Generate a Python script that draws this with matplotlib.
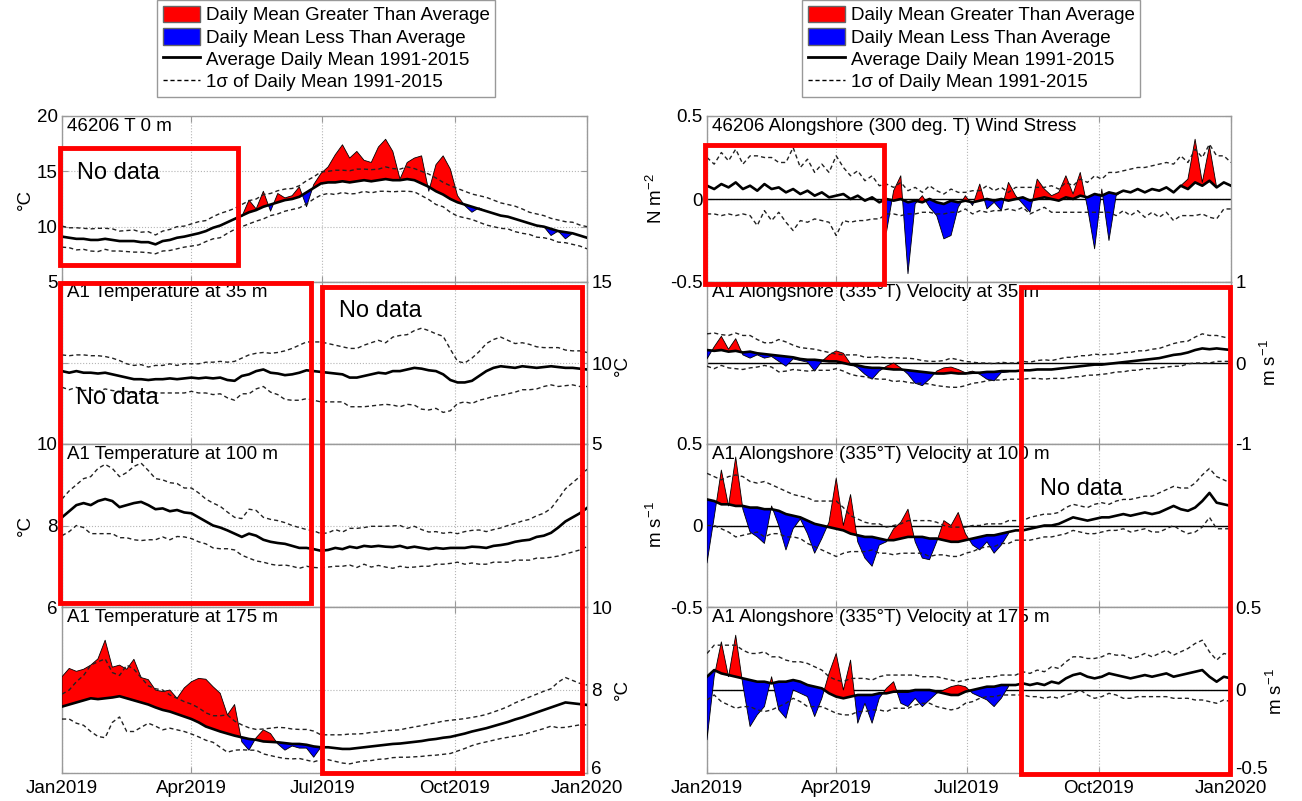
import numpy as np
import matplotlib

matplotlib.use("Agg")
import matplotlib.pyplot as plt
import matplotlib.transforms as mtransforms
from matplotlib.patches import Rectangle, Patch
from matplotlib.lines import Line2D

plt.rcParams["font.family"] = ["Liberation Sans", "DejaVu Sans"]
plt.rcParams["mathtext.default"] = "regular"

# day of year, 5-day steps through 2019
days = np.arange(0, 366, 5)
month_ticks = [0, 90, 181, 273, 365]
month_labels = ["Jan2019", "Apr2019", "Jul2019", "Oct2019", "Jan2020"]

# ---- left column: temperature (deg C) ----
t0_mean = [9.1, 9.0, 8.9, 8.9, 8.8, 8.8, 8.9, 8.8, 8.7, 8.7,
           8.7, 8.6, 8.6, 8.4, 8.7, 8.8, 9.0, 9.1, 9.25, 9.4,
           9.6, 9.9, 10.1, 10.4, 10.7, 11.0, 11.3, 11.5, 11.8, 12.0,
           12.2, 12.4, 12.5, 12.7, 13.1, 13.5, 13.9, 14.0, 14.0, 14.1,
           14.0, 14.1, 14.2, 14.1, 14.2, 14.3, 14.2, 14.2, 14.3, 14.2,
           13.9, 13.6, 13.2, 12.9, 12.5, 12.2, 12.0, 11.8, 11.6, 11.4,
           11.2, 11.0, 10.9, 10.7, 10.5, 10.3, 10.1, 10.0, 9.8, 9.6,
           9.5, 9.4, 9.2, 9.0]
t0_sd = [0.95, 0.9, 1.0, 0.95, 1.0, 1.05, 0.95, 1.0, 0.9, 0.95,
         1.0, 0.9, 0.95, 0.85, 0.9, 0.95, 1.0, 0.95, 1.0, 1.05,
         0.95, 1.0, 1.1, 1.0, 0.95, 1.0, 1.05, 1.0, 1.1, 1.0,
         1.05, 1.0, 0.95, 1.0, 1.05, 1.0, 1.05, 1.0, 1.1, 1.0,
         1.05, 1.1, 1.0, 1.05, 1.0, 1.1, 1.05, 1.0, 1.1, 1.05,
         1.1, 1.15, 1.2, 1.1, 1.2, 1.25, 1.2, 1.15, 1.2, 1.25,
         1.2, 1.15, 1.1, 1.15, 1.1, 1.0, 1.05, 1.0, 0.95, 1.0,
         0.95, 1.0, 0.95, 1.0]
# observed 2019 from day 125 on
t0_obs = [10.9, 12.4, 11.6, 13.2, 11.4, 13.0, 12.6, 12.8, 13.6, 11.8,
          13.8, 14.8, 15.4, 16.5, 17.4, 16.2, 16.8, 16.0, 15.8, 17.2,
          17.9, 16.8, 14.3, 15.8, 16.2, 16.4, 13.2, 15.6, 16.4, 15.2,
          12.8, 11.9, 11.3, 11.7, 11.4, 11.2, 11.0, 10.9, 10.7, 10.5,
          10.3, 10.1, 10.0, 9.2, 9.6, 8.9, 9.4, 9.2, 9.0]

t35_mean = [9.5, 9.4, 9.5, 9.4, 9.4, 9.35, 9.4, 9.3, 9.2, 9.1,
            9.0, 9.0, 8.95, 9.0, 9.0, 9.05, 9.0, 9.05, 9.1, 9.05,
            9.1, 9.05, 9.1, 8.95, 8.9, 9.2, 9.3, 9.5, 9.6, 9.4,
            9.35, 9.25, 9.3, 9.4, 9.55, 9.5, 9.45, 9.4, 9.35, 9.3,
            9.1, 9.1, 9.2, 9.3, 9.4, 9.35, 9.5, 9.5, 9.6, 9.7,
            9.65, 9.55, 9.5, 9.3, 8.95, 8.8, 8.8, 8.9, 9.2, 9.5,
            9.7, 9.8, 9.75, 9.7, 9.8, 9.75, 9.7, 9.75, 9.8, 9.75,
            9.7, 9.7, 9.65, 9.6]
t35_sd = [1.0, 1.05, 1.0, 1.1, 1.05, 1.1, 1.0, 1.0, 0.95, 0.85,
          0.85, 0.9, 0.8, 0.85, 0.85, 0.9, 0.85, 0.9, 0.85, 0.9,
          0.95, 1.0, 1.0, 1.1, 1.2, 1.1, 1.2, 1.1, 1.05, 1.2,
          1.3, 1.5, 1.6, 1.7, 1.75, 1.8, 1.85, 1.8, 1.75, 1.7,
          1.8, 1.8, 1.9, 1.95, 2.0, 1.9, 2.1, 2.2, 2.15, 2.3,
          2.5, 2.45, 2.3, 2.35, 1.9, 1.3, 1.2, 1.4, 1.5, 1.7,
          1.75, 1.8, 1.65, 1.5, 1.45, 1.4, 1.3, 1.2, 1.15, 1.2,
          1.1, 1.05, 1.1, 1.05]

t100_mean = [8.2, 8.35, 8.5, 8.55, 8.5, 8.6, 8.65, 8.6, 8.45, 8.5,
             8.55, 8.58, 8.5, 8.4, 8.42, 8.35, 8.38, 8.32, 8.3, 8.2,
             8.1, 8.0, 7.95, 7.88, 7.8, 7.72, 7.8, 7.75, 7.65, 7.6,
             7.57, 7.55, 7.5, 7.45, 7.45, 7.42, 7.38, 7.4, 7.45, 7.42,
             7.48, 7.45, 7.5, 7.48, 7.5, 7.48, 7.47, 7.5, 7.45, 7.48,
             7.45, 7.42, 7.45, 7.43, 7.45, 7.45, 7.45, 7.48, 7.47, 7.45,
             7.5, 7.52, 7.55, 7.6, 7.63, 7.65, 7.72, 7.75, 7.82, 7.95,
             8.1, 8.2, 8.3, 8.43]
t100_sd = [0.45, 0.5, 0.5, 0.6, 0.7, 0.8, 0.85, 0.8, 0.75, 0.8,
           0.9, 0.95, 0.85, 0.75, 0.7, 0.7, 0.65, 0.6, 0.62, 0.6,
           0.55, 0.55, 0.52, 0.45, 0.4, 0.45, 0.6, 0.62, 0.55, 0.55,
           0.55, 0.52, 0.5, 0.5, 0.45, 0.45, 0.42, 0.42, 0.45, 0.42,
           0.45, 0.48, 0.45, 0.5, 0.48, 0.5, 0.52, 0.5, 0.48, 0.5,
           0.45, 0.42, 0.4, 0.38, 0.38, 0.35, 0.4, 0.4, 0.42, 0.4,
           0.4, 0.42, 0.45, 0.45, 0.48, 0.5, 0.52, 0.55, 0.6, 0.7,
           0.8, 0.85, 0.9, 0.95]

t175_mean = [7.6, 7.65, 7.7, 7.75, 7.8, 7.78, 7.8, 7.82, 7.85, 7.8,
             7.75, 7.7, 7.65, 7.58, 7.52, 7.48, 7.42, 7.36, 7.3, 7.22,
             7.12, 7.06, 7.0, 6.95, 6.9, 6.86, 6.82, 6.8, 6.76, 6.75,
             6.74, 6.72, 6.7, 6.7, 6.68, 6.64, 6.62, 6.62, 6.6, 6.58,
             6.58, 6.6, 6.62, 6.64, 6.66, 6.68, 6.7, 6.71, 6.73, 6.75,
             6.77, 6.8, 6.82, 6.85, 6.87, 6.91, 6.95, 7.0, 7.04, 7.08,
             7.13, 7.18, 7.23, 7.29, 7.34, 7.4, 7.46, 7.52, 7.58, 7.64,
             7.7, 7.68, 7.66, 7.64]
t175_sd = [0.3, 0.35, 0.5, 0.6, 0.8, 0.9, 0.95, 0.6, 0.5, 0.8,
           0.75, 0.6, 0.45, 0.45, 0.48, 0.4, 0.38, 0.36, 0.36, 0.35,
           0.33, 0.32, 0.38, 0.45, 0.35, 0.3, 0.27, 0.25, 0.3, 0.33,
           0.36, 0.37, 0.36, 0.35, 0.37, 0.37, 0.3, 0.3, 0.32, 0.34,
           0.36, 0.34, 0.33, 0.34, 0.33, 0.34, 0.33, 0.33, 0.35, 0.36,
           0.37, 0.38, 0.39, 0.4, 0.4, 0.38, 0.36, 0.34, 0.33, 0.33,
           0.34, 0.35, 0.37, 0.4, 0.42, 0.43, 0.44, 0.45, 0.45, 0.55,
           0.6, 0.55, 0.5, 0.48]
# observed 2019 up to day 180
t175_obs = [8.32, 8.52, 8.45, 8.5, 8.6, 8.75, 9.2, 8.55, 8.6, 8.5,
            8.74, 8.3, 8.25, 8.0, 7.96, 8.0, 7.8, 8.05, 8.2, 8.28,
            8.26, 8.08, 7.92, 7.4, 7.65, 6.75, 6.55, 6.85, 7.04, 6.95,
            6.7, 6.55, 6.65, 6.6, 6.6, 6.38, 6.62]

# ---- right column: wind stress (N m-2) and velocity (m s-1) ----
ws_mean = [0.08, 0.06, 0.09, 0.07, 0.1, 0.06, 0.08, 0.05, 0.09, 0.06,
           0.07, 0.04, 0.06, 0.03, 0.05, 0.02, 0.04, 0.01, 0.02, 0.03,
           0.0, 0.02, -0.01, 0.01, -0.02, 0.0, -0.01, 0.0, -0.02, -0.01,
           -0.02, 0.0, -0.02, -0.03, -0.01, -0.02, -0.01, -0.02, -0.01, 0.0,
           -0.01, 0.0, -0.01, 0.0, 0.01, -0.01, 0.0, 0.01, 0.0, -0.01,
           0.01, 0.0, 0.02, 0.01, 0.03, 0.02, 0.04, 0.03, 0.05, 0.04,
           0.06, 0.04, 0.06, 0.05, 0.07, 0.04, 0.08, 0.06, 0.1, 0.08,
           0.11, 0.07, 0.1, 0.08]
ws_sd = [0.17, 0.15, 0.19, 0.16, 0.2, 0.15, 0.18, 0.21, 0.16, 0.19,
         0.15, 0.18, 0.25, 0.16, 0.19, 0.14, 0.17, 0.15, 0.24, 0.16,
         0.14, 0.15, 0.12, 0.13, 0.1, 0.09, 0.08, 0.1, 0.07, 0.08,
         0.06, 0.08, 0.07, 0.06, 0.07, 0.06, 0.05, 0.07, 0.06, 0.08,
         0.06, 0.07, 0.05, 0.07, 0.06, 0.08, 0.07, 0.06, 0.08, 0.07,
         0.09, 0.08, 0.1, 0.09, 0.11, 0.1, 0.12, 0.13, 0.12, 0.14,
         0.13, 0.15, 0.14, 0.16, 0.15, 0.17, 0.18, 0.16, 0.2, 0.17,
         0.22, 0.19, 0.16, 0.14]
# observed 2019 from day 125 on
ws_obs = [-0.2, 0.05, 0.14, -0.45, -0.03, 0.02, -0.05, -0.1, -0.24, -0.22,
          -0.05, 0.02, -0.04, 0.09, -0.06, -0.02, -0.07, 0.1, 0.02, -0.03,
          -0.08, 0.12, 0.06, 0.02, 0.04, 0.14, 0.03, 0.16, -0.05, -0.3,
          0.06, -0.25, 0.02, 0.05, 0.04, 0.06, 0.04, 0.06, 0.05, 0.07,
          0.04, 0.08, 0.12, 0.36, 0.1, 0.32, 0.07, 0.1, 0.08]

v35_mean = [0.16, 0.15, 0.16, 0.14, 0.15, 0.13, 0.14, 0.12, 0.11, 0.1,
            0.09, 0.08, 0.07, 0.05, 0.04, 0.04, 0.03, 0.02, 0.02, 0.0,
            -0.02, -0.03, -0.05, -0.06, -0.06, -0.07, -0.08, -0.08, -0.09, -0.1,
            -0.11, -0.12, -0.13, -0.13, -0.12, -0.13, -0.13, -0.12, -0.12, -0.11,
            -0.11, -0.1, -0.1, -0.1, -0.09, -0.09, -0.08, -0.08, -0.08, -0.07,
            -0.06, -0.05, -0.04, -0.03, -0.02, -0.02, -0.01, 0.0, 0.01, 0.02,
            0.03, 0.04, 0.05, 0.06, 0.08, 0.1, 0.11, 0.13, 0.16, 0.18,
            0.17, 0.18, 0.17, 0.16]
v35_sd = [0.2, 0.22, 0.19, 0.2, 0.22, 0.21, 0.2, 0.17, 0.14, 0.15,
          0.2, 0.18, 0.15, 0.14, 0.14, 0.13, 0.12, 0.11, 0.09, 0.1,
          0.12, 0.13, 0.12, 0.13, 0.14, 0.13, 0.15, 0.14, 0.15, 0.15,
          0.14, 0.14, 0.15, 0.16, 0.18, 0.17, 0.15, 0.13, 0.12, 0.11,
          0.1, 0.11, 0.1, 0.1, 0.11, 0.1, 0.11, 0.12, 0.11, 0.12,
          0.13, 0.12, 0.13, 0.12, 0.13, 0.12, 0.12, 0.11, 0.12, 0.11,
          0.12, 0.11, 0.12, 0.12, 0.13, 0.14, 0.15, 0.14, 0.16, 0.18,
          0.17, 0.16, 0.15, 0.14]
# observed 2019 up to day 210
v35_obs = [0.05, 0.2, 0.33, 0.17, 0.3, 0.1, 0.06, 0.1, 0.06, 0.08,
           0.02, -0.04, 0.05, 0.03, 0.01, -0.1, 0.02, 0.1, 0.15, 0.12,
           -0.01, -0.06, -0.14, -0.2, -0.1, -0.04, 0.0, -0.06, -0.14, -0.25,
           -0.28, -0.2, -0.1, -0.06, -0.05, -0.08, -0.12, -0.1, -0.14, -0.2,
           -0.22, -0.12, -0.11]

v100_mean = [0.16, 0.15, 0.13, 0.13, 0.12, 0.12, 0.11, 0.11, 0.1, 0.1,
             0.09, 0.07, 0.06, 0.05, 0.03, 0.01, 0.0, -0.01, -0.02, -0.03,
             -0.05, -0.06, -0.07, -0.07, -0.08, -0.09, -0.09, -0.08, -0.07, -0.07,
             -0.07, -0.08, -0.08, -0.09, -0.1, -0.1, -0.09, -0.08, -0.07, -0.06,
             -0.06, -0.05, -0.04, -0.03, -0.03, -0.02, -0.01, 0.0, 0.0, 0.01,
             0.03, 0.05, 0.04, 0.03, 0.04, 0.05, 0.05, 0.06, 0.07, 0.06,
             0.07, 0.08, 0.07, 0.08, 0.1, 0.12, 0.1, 0.09, 0.11, 0.15,
             0.2, 0.14, 0.13, 0.12]
v100_sd = [0.16, 0.15, 0.15, 0.17, 0.19, 0.18, 0.16, 0.15, 0.17, 0.15,
           0.14, 0.14, 0.13, 0.13, 0.14, 0.14, 0.15, 0.16, 0.17, 0.14,
           0.11, 0.1, 0.09, 0.08, 0.09, 0.08, 0.09, 0.09, 0.1, 0.1,
           0.1, 0.11, 0.1, 0.09, 0.09, 0.09, 0.08, 0.08, 0.07, 0.07,
           0.07, 0.06, 0.07, 0.06, 0.06, 0.07, 0.07, 0.07, 0.07, 0.07,
           0.08, 0.08, 0.08, 0.08, 0.09, 0.09, 0.08, 0.09, 0.09, 0.1,
           0.1, 0.1, 0.11, 0.12, 0.12, 0.12, 0.13, 0.14, 0.15, 0.16,
           0.15, 0.16, 0.15, 0.14]
v100_obs = [-0.23, 0.05, 0.34, 0.12, 0.42, 0.1, -0.04, -0.07, -0.11, 0.12,
            0.0, -0.15, -0.02, 0.04, -0.05, -0.17, -0.08, 0.02, 0.29, 0.0,
            0.19, -0.1, -0.2, -0.25, -0.12, -0.1, -0.02, 0.02, 0.1, -0.1,
            -0.2, -0.21, -0.1, 0.03, 0.0, 0.08, -0.05, -0.12, -0.15, -0.1,
            -0.17, -0.12, -0.05]

v175_mean = [0.08, 0.12, 0.1, 0.09, 0.08, 0.07, 0.06, 0.05, 0.05, 0.04,
             0.05, 0.05, 0.06, 0.05, 0.03, 0.02, 0.01, -0.02, -0.04, -0.05,
             -0.04, -0.03, -0.03, -0.03, -0.02, -0.02, -0.01, -0.01, -0.01, 0.0,
             0.0, 0.0, -0.01, -0.02, -0.03, -0.03, -0.01, 0.0, 0.01, 0.02,
             0.02, 0.03, 0.03, 0.03, 0.04, 0.03, 0.04, 0.03, 0.05, 0.04,
             0.07, 0.09, 0.1, 0.08, 0.07, 0.08, 0.1, 0.09, 0.08, 0.07,
             0.08, 0.09, 0.08, 0.09, 0.1, 0.08, 0.09, 0.1, 0.11, 0.12,
             0.08, 0.05, 0.08, 0.07]
v175_sd = [0.14, 0.15, 0.17, 0.18, 0.19, 0.17, 0.16, 0.17, 0.18, 0.16,
           0.15, 0.13, 0.11, 0.12, 0.13, 0.12, 0.11, 0.1, 0.1, 0.1,
           0.11, 0.1, 0.1, 0.09, 0.1, 0.11, 0.1, 0.1, 0.1, 0.09,
           0.08, 0.08, 0.09, 0.09, 0.09, 0.08, 0.07, 0.07, 0.06, 0.06,
           0.06, 0.06, 0.06, 0.06, 0.07, 0.07, 0.08, 0.08, 0.09, 0.09,
           0.1, 0.11, 0.1, 0.11, 0.12, 0.12, 0.12, 0.12, 0.13, 0.12,
           0.12, 0.13, 0.12, 0.13, 0.14, 0.13, 0.14, 0.15, 0.17, 0.18,
           0.15, 0.13, 0.14, 0.14]
v175_obs = [-0.3, 0.08, 0.29, 0.08, 0.33, 0.03, -0.22, -0.15, -0.1, 0.08,
            -0.12, -0.17, 0.0, -0.02, -0.04, -0.16, -0.05, 0.1, 0.22, 0.0,
            0.18, -0.2, -0.08, -0.2, -0.05, 0.01, 0.05, -0.08, -0.1, -0.05,
            -0.1, -0.06, -0.02, 0.0, 0.02, 0.03, 0.02, -0.02, -0.04, -0.06,
            -0.1, -0.05, 0.02]

legend_labels = [
    "Daily Mean Greater Than Average",
    "Daily Mean Less Than Average",
    "Average Daily Mean 1991-2015",
    "1\u03c3 of Daily Mean 1991-2015",
]


def pad_obs(values, start):
    out = np.full(len(days), np.nan)
    out[start:start + len(values)] = values
    return out


W, H = 1302, 801
FRAME = "#9a9a9a"


def fig_rect(x0, y0, x1, y1):
    return [x0 / W, 1 - y1 / H, (x1 - x0) / W, (y1 - y0) / H]


def draw_panel(ax, mean, sd, obs, ylim, yticks, side, title, zero_line, bottom):
    mean = np.asarray(mean, dtype=float)
    sd = np.asarray(sd, dtype=float)
    if zero_line:
        ax.axhline(0, color="black", lw=1.0, zorder=2)
    if obs is not None:
        ax.fill_between(days, mean, obs, where=obs >= mean, interpolate=True,
                        facecolor="red", edgecolor="black", lw=0.6, zorder=3)
        ax.fill_between(days, mean, obs, where=obs < mean, interpolate=True,
                        facecolor="blue", edgecolor="black", lw=0.6, zorder=3)
    ax.plot(days, mean + sd, color="#222222", lw=1.0, dashes=(3, 2.2), zorder=4)
    ax.plot(days, mean - sd, color="#222222", lw=1.0, dashes=(3, 2.2), zorder=4)
    ax.plot(days, mean, color="black", lw=1.9, zorder=5)

    ax.set_xlim(0, 365)
    ax.set_ylim(*ylim)
    ax.set_yticks(yticks)
    ax.set_yticklabels([f"{t:g}" for t in yticks])
    ax.set_xticks(month_ticks)
    ax.set_xticklabels(month_labels if bottom else [])
    ax.tick_params(direction="in", length=4, width=0.8, color=FRAME,
                   left=True, right=True, top=True, bottom=True,
                   labelleft=(side == "left"), labelright=(side == "right"),
                   labelsize=13.5, pad=3)
    ax.tick_params(axis="x", pad=5)
    ax.grid(True, ls=":", color="#b5b5b5", lw=0.8)
    for sp in ax.spines.values():
        sp.set_color(FRAME)
        sp.set_linewidth(1.0)
    ax.text(0.01, 0.985, title, transform=ax.transAxes, ha="left", va="top",
            fontsize=13.5, zorder=6)
    if bottom and side == "right":
        # lift the lowest right-hand label a little so it clears "Jan2020"
        lift = mtransforms.ScaledTranslation(0, 5 / 100, fig.dpi_scale_trans)
        lab = ax.yaxis.get_majorticklabels()[0]
        lab.set_transform(lab.get_transform() + lift)


fig = plt.figure(figsize=(W / 100, H / 100), dpi=100)

rows = [(116, 282), (282, 444), (444, 607), (607, 773)]
left_x = (62, 587)
right_x = (707, 1231)

left_panels = [
    (t0_mean, t0_sd, pad_obs(t0_obs, 25), (5, 20), [5, 10, 15, 20], "left", "46206 T 0 m"),
    (t35_mean, t35_sd, None, (5, 15), [5, 10, 15], "right", "A1 Temperature at 35 m"),
    (t100_mean, t100_sd, None, (6, 10), [6, 8, 10], "left", "A1 Temperature at 100 m"),
    (t175_mean, t175_sd, pad_obs(t175_obs, 0), (6, 10), [6, 8, 10], "right", "A1 Temperature at 175 m"),
]
right_panels = [
    (ws_mean, ws_sd, pad_obs(ws_obs, 25), (-0.5, 0.5), [-0.5, 0, 0.5], "left",
     "46206 Alongshore (300 deg. T) Wind Stress"),
    (v35_mean, v35_sd, pad_obs(v35_obs, 0), (-1, 1), [-1, 0, 1], "right",
     "A1 Alongshore (335\u00b0T) Velocity at 35 m"),
    (v100_mean, v100_sd, pad_obs(v100_obs, 0), (-0.5, 0.5), [-0.5, 0, 0.5], "left",
     "A1 Alongshore (335\u00b0T) Velocity at 100 m"),
    (v175_mean, v175_sd, pad_obs(v175_obs, 0), (-0.5, 0.5), [-0.5, 0, 0.5], "right",
     "A1 Alongshore (335\u00b0T) Velocity at 175 m"),
]

for i, (row, cfg) in enumerate(zip(rows, left_panels)):
    ax = fig.add_axes(fig_rect(left_x[0], row[0], left_x[1], row[1]))
    draw_panel(ax, *cfg, zero_line=False, bottom=(i == 3))
for i, (row, cfg) in enumerate(zip(rows, right_panels)):
    ax = fig.add_axes(fig_rect(right_x[0], row[0], right_x[1], row[1]))
    draw_panel(ax, *cfg, zero_line=True, bottom=(i == 3))

# unit labels
unit_labels = [
    (25, 199, "\u00b0C"), (622, 365, "\u00b0C"), (25, 525, "\u00b0C"), (622, 690, "\u00b0C"),
    (656, 199, "N m$^{-2}$"), (1270, 363, "m s$^{-1}$"),
    (656, 525, "m s$^{-1}$"), (1276, 692, "m s$^{-1}$"),
]
for x, y, s in unit_labels:
    fig.text(x / W, 1 - y / H, s, rotation=90, ha="center", va="center", fontsize=13.5)

# red "No data" boxes
boxes = [(60, 148, 238, 265), (60, 283, 311, 603), (322, 287, 582, 773),
         (705, 145, 884, 284), (1021, 287, 1230, 774)]
for x0, y0, x1, y1 in boxes:
    fig.add_artist(Rectangle((x0 / W, 1 - y1 / H), (x1 - x0) / W, (y1 - y0) / H,
                             transform=fig.transFigure, fill=False,
                             edgecolor="#ff0000", lw=3.5, zorder=10))
for x, y in [(77, 173), (76, 398), (339, 311), (1040, 489)]:
    fig.text(x / W, 1 - y / H, "No data", ha="left", va="center", fontsize=17, zorder=11)

# legends
handles = [
    Patch(facecolor="red", edgecolor="#666666"),
    Patch(facecolor="blue", edgecolor="#666666"),
    Line2D([], [], color="black", lw=2.0),
    Line2D([], [], color="black", lw=1.0, dashes=(3, 2)),
]
for x0 in (157, 802):
    leg = fig.legend(handles, legend_labels, loc="upper left",
                     bbox_to_anchor=(x0 / W, 1.0), frameon=True, fancybox=False,
                     edgecolor="#999999", framealpha=1, fontsize=13.5,
                     handlelength=2.0, handleheight=1.0, handletextpad=0.3,
                     labelspacing=0.18, borderpad=0.3, borderaxespad=0.0)
    leg.get_frame().set_linewidth(1.0)

fig.savefig("out.png", dpi=100)
plt.close(fig)
